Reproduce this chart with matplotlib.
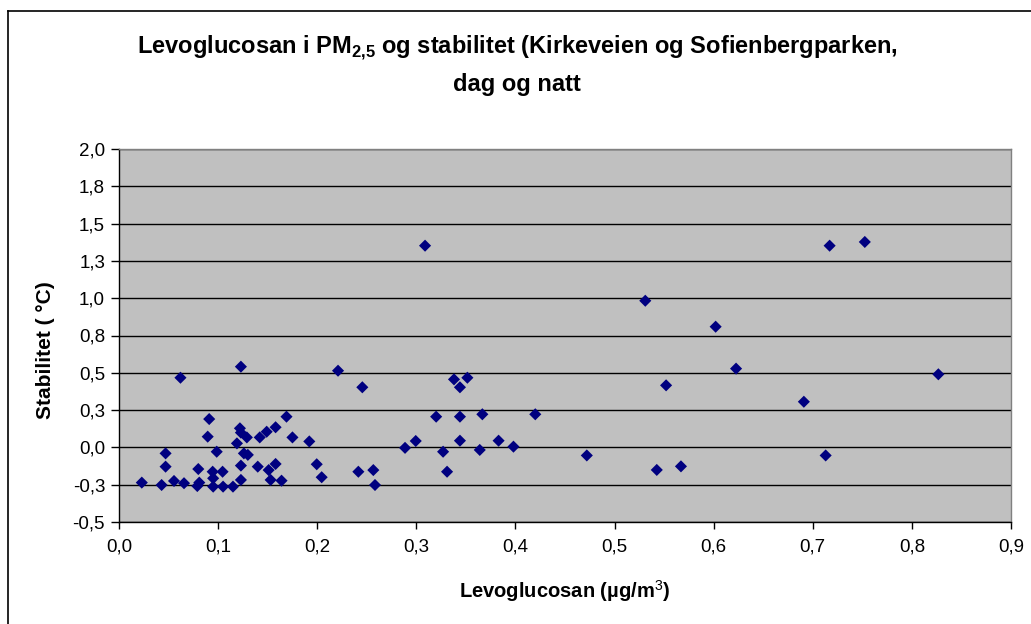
import matplotlib
matplotlib.use("Agg")
import matplotlib.pyplot as plt
from matplotlib.lines import Line2D
from matplotlib.ticker import FuncFormatter
import math

levoglucosan = [
    0.023, 0.043, 0.0555, 0.0656, 0.062, 0.047, 0.047, 0.080, 0.081, 0.079,
    0.091, 0.0895, 0.0986, 0.0945, 0.1045, 0.095, 0.095, 0.105, 0.115, 0.123,
    0.123, 0.119, 0.122, 0.123, 0.129, 0.126, 0.130, 0.123, 0.140, 0.142,
    0.149, 0.158, 0.169, 0.175, 0.151, 0.158, 0.153, 0.164, 0.192, 0.1995,
    0.2045, 0.221, 0.2455, 0.2415, 0.2566, 0.2583, 0.2886, 0.2994, 0.320, 0.327,
    0.331, 0.338, 0.344, 0.3515, 0.344, 0.344, 0.3666, 0.364, 0.383, 0.398,
    0.420, 0.472, 0.531, 0.552, 0.5426, 0.567, 0.602, 0.6226, 0.691, 0.713,
    0.717, 0.7525, 0.8267, 0.3088,
]
stabilitet = [
    -0.236, -0.252, -0.225, -0.240, 0.467, -0.040, -0.129, -0.145, -0.236, -0.259,
    0.190, 0.072, -0.029, -0.163, -0.163, -0.207, -0.263, -0.263, -0.263, -0.218,
    -0.122, 0.027, 0.128, 0.099, 0.067, -0.040, -0.050, 0.541, -0.129, 0.067,
    0.105, 0.135, 0.206, 0.067, -0.152, -0.111, -0.218, -0.223, 0.040, -0.113,
    -0.200, 0.514, 0.403, -0.163, -0.152, -0.252, -0.003, 0.043, 0.206, -0.029,
    -0.163, 0.456, 0.403, 0.467, 0.206, 0.045, 0.222, -0.017, 0.045, 0.005,
    0.222, -0.054, 0.983, 0.416, -0.151, -0.127, 0.809, 0.528, 0.306, -0.054,
    1.352, 1.377, 0.490, 1.352,
]
x_ticks = [0.0, 0.1, 0.2, 0.3, 0.4, 0.5, 0.6, 0.7, 0.8, 0.9]
y_ticks = [-0.5, -0.25, 0.0, 0.25, 0.5, 0.75, 1.0, 1.25, 1.5, 1.75, 2.0]

plt.rcParams['font.family'] = ['Liberation Sans', 'DejaVu Sans']
plt.rcParams['mathtext.fontset'] = 'custom'
plt.rcParams['mathtext.rm'] = 'Liberation Sans'
plt.rcParams['mathtext.bf'] = 'Liberation Sans:bold'

W, H = 1031, 624
fig = plt.figure(figsize=(W / 100, H / 100), dpi=100)
fig.patch.set_facecolor('white')

# outer chart border (top and left visible)
fig.add_artist(Line2D([8 / W, 1.01], [1 - 11 / H, 1 - 11 / H], transform=fig.transFigure,
                      color='black', lw=1.2))
fig.add_artist(Line2D([8 / W, 8 / W], [-0.01, 1 - 11 / H], transform=fig.transFigure,
                      color='black', lw=1.2))

ax = fig.add_axes([119 / W, 1 - 522 / H, (1011 - 119) / W, (522 - 149) / H])
ax.set_facecolor('#C0C0C0')
ax.set_xlim(0, 0.9)
ax.set_ylim(-0.5, 2.0)
ax.set_xticks(x_ticks)
ax.set_yticks(y_ticks)


def comma_fmt(v, pos):
    # Excel-style rounding (half away from zero) to one decimal
    r = math.floor(abs(v) * 10 + 0.5 + 1e-9) / 10.0
    r = -r if v < 0 else r
    return ("%.1f" % r).replace('.', ',')


ax.xaxis.set_major_formatter(FuncFormatter(comma_fmt))
ax.yaxis.set_major_formatter(FuncFormatter(comma_fmt))

ax.grid(axis='y', color='black', lw=1.0)
ax.set_axisbelow(True)
for side in ['top', 'right']:
    ax.spines[side].set_color('#808080')
    ax.spines[side].set_linewidth(1.0)
for side in ['left', 'bottom']:
    ax.spines[side].set_color('black')
    ax.spines[side].set_linewidth(1.0)

ax.tick_params(axis='both', direction='out', width=1, labelsize=13.5, colors='black')
ax.tick_params(axis='y', length=6, pad=4)
ax.tick_params(axis='x', length=5, pad=7)

ax.scatter(levoglucosan, stabilitet, marker='D', s=38, color='#000080', edgecolors='none', zorder=3)

ax.set_xlabel('Levoglucosan (µg/m$^{3}$)', fontsize=14.5, fontweight='bold')
ax.xaxis.set_label_coords((565 - 119) / 892, -(578 - 522) / 373)
ax.set_ylabel('Stabilitet ( °C)', fontsize=15, fontweight='bold')
ax.yaxis.set_label_coords(-(119 - 55) / 892, (522 - 350) / 373)

fig.text(517 / W, 1 - 53 / H, 'Levoglucosan i PM$_{\\mathbf{2{,}5}}$ og stabilitet (Kirkeveien og Sofienbergparken,',
         ha='center', va='baseline', fontsize=17, fontweight='bold')
fig.text(517 / W, 1 - 91 / H, 'dag og natt', ha='center', va='baseline', fontsize=17, fontweight='bold')

fig.savefig('out.png', dpi=100)
